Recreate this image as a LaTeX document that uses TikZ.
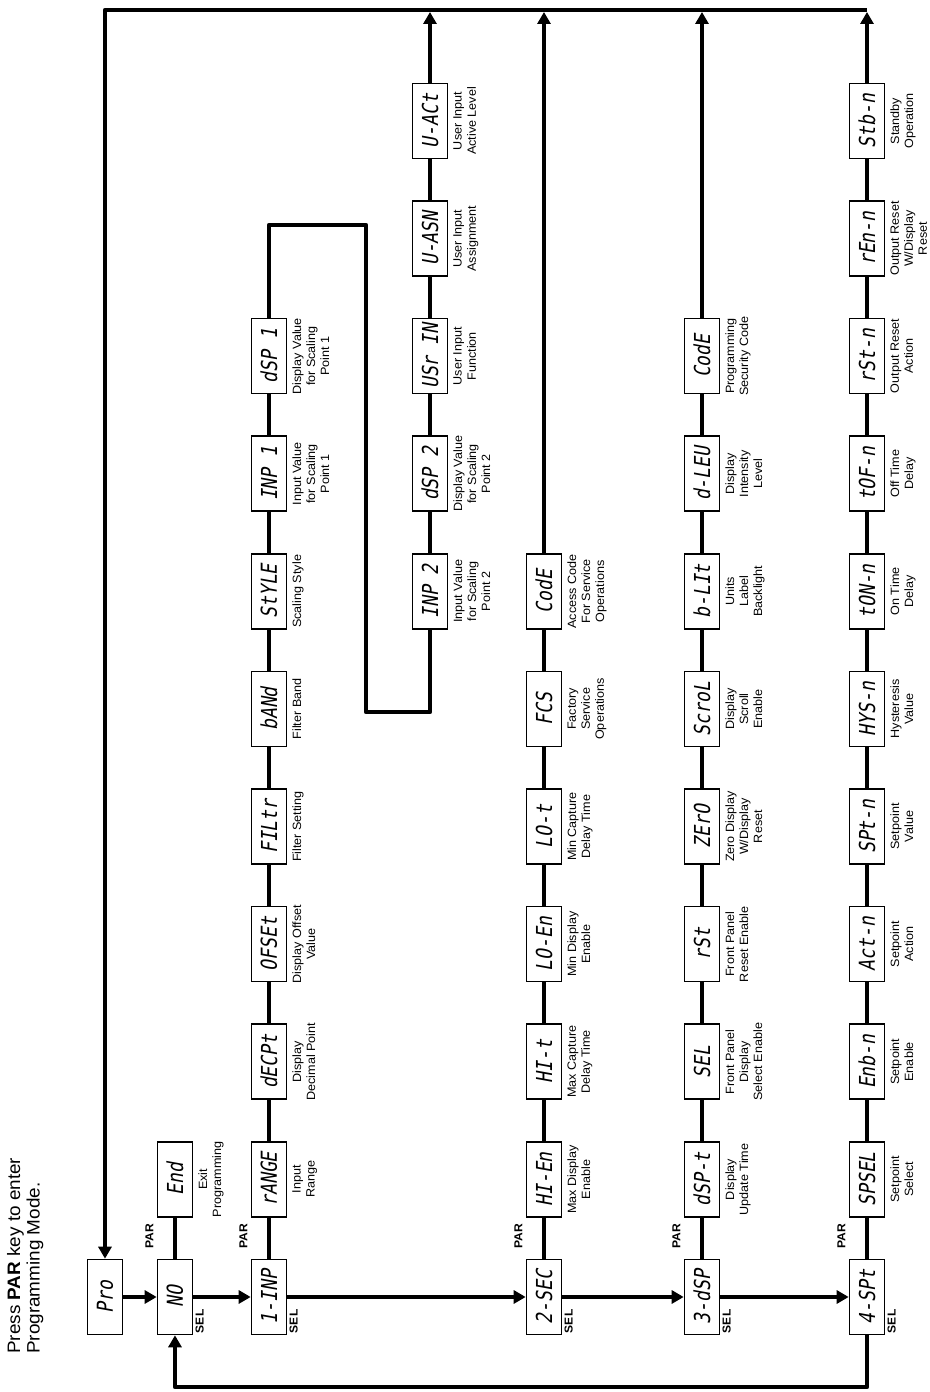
\documentclass[tikz,border=0pt]{standalone}
\usepackage{fontspec}
\setmainfont[FakeStretch=1.05]{Liberation Sans}
\newfontfamily\segfont[FakeSlant=0.18,FakeStretch=0.82]{DejaVu Sans Mono}
\usetikzlibrary{arrows.meta}

\tikzset{
  disp/.style={draw, line width=1.6pt, minimum width=75pt, minimum height=35pt,
    inner sep=0pt, font=\segfont\fontsize{22}{22}\selectfont},
  desc/.style={anchor=north, yshift=-5pt, align=center, inner sep=0pt,
    font=\fontsize{12}{14}\selectfont},
  btn/.style={inner sep=0pt, font=\bfseries\fontsize{11.5}{12}\selectfont},
  link/.style={line width=4.3pt, line join=round},
  flow/.style={link, ->},
}

\begin{document}
\begin{tikzpicture}[rotate=90, transform shape, x=1pt, y=1pt,
    >={Triangle[length=12pt,width=13pt]}]
  \useasboundingbox (0,0) rectangle (1392,929);

  \node[anchor=north west, align=left, inner sep=0pt,
    font=\fontsize{18}{19.5}\selectfont] (intro) at (38,922)
    {Press \textbf{PAR} key to enter\\Programming Mode.};

  % entry
  \node[disp] (pro) at (95,824) {Pro};
  \node[disp] (no) at (95,754) {NO};
  \node[disp] (end) at (212.6,754) {End};
  \node[desc] at (end.south) {Exit\\Programming};
  \draw[link] (no) -- (end);

  % first column
  \node[disp] (a0) at (95,660) {1-INP};
  \node[disp] (c0) at (95,385) {2-SEC};
  \node[disp] (d0) at (95,227) {3-dSP};
  \node[disp] (e0) at (95,62) {4-SPt};

  % row 1
  \foreach \t/\d [count=\k from 1] in {rANGE/{Input\\Range},
      dECPt/{Display\\Decimal Point}, OFSEt/{Display Offset\\Value},
      FILtr/{Filter Setting}, bANd/{Filter Band}, StYLE/{Scaling Style},
      INP 1/{Input Value\\for Scaling\\Point 1},
      dSP 1/{Display Value\\for Scaling\\Point 1}}
    {
      \node[disp] (a\k) at (95+117.6*\k,660) {\t};
      \node[desc] at (a\k.south) {\d};
    }
  \foreach \t/\d [count=\k from 6] in {INP 2/{Input Value\\for Scaling\\Point 2},
      dSP 2/{Display Value\\for Scaling\\Point 2},
      USr IN/{User Input\\Function}, U-ASN/{User Input\\Assignment},
      U-ACt/{User Input\\Active Level}}
    {
      \node[disp] (b\k) at (95+117.6*\k,499) {\t};
      \node[desc] at (b\k.south) {\d};
    }

  % row 2
  \foreach \t/\d [count=\k from 1] in {HI-En/{Max Display\\Enable},
      HI-t/{Max Capture\\Delay Time}, LO-En/{Min Display\\Enable},
      LO-t/{Min Capture\\Delay Time}, FCS/{Factory\\Service\\Operations},
      CodE/{Access Code\\For Service\\Operations}}
    {
      \node[disp] (c\k) at (95+117.6*\k,385) {\t};
      \node[desc] at (c\k.south) {\d};
    }

  % row 3
  \foreach \t/\d [count=\k from 1] in {dSP-t/{Display\\Update Time},
      SEL/{Front Panel\\Display\\Select Enable},
      rSt/{Front Panel\\Reset Enable},
      ZErO/{Zero Display\\W/Display\\Reset},
      ScroL/{Display\\Scroll\\Enable}, b-LIt/{Units\\Label\\Backlight},
      d-LEU/{Display\\Intensity\\Level},
      CodE/{Programming\\Security Code}}
    {
      \node[disp] (d\k) at (95+117.6*\k,227) {\t};
      \node[desc] at (d\k.south) {\d};
    }

  % row 4
  \foreach \t/\d [count=\k from 1] in {SPSEL/{Setpoint\\Select},
      Enb-n/{Setpoint\\Enable}, Act-n/{Setpoint\\Action},
      SPt-n/{Setpoint\\Value}, HYS-n/{Hysteresis\\Value},
      tON-n/{On Time\\Delay}, tOF-n/{Off Time\\Delay},
      rSt-n/{Output Reset\\Action},
      rEn-n/{Output Reset\\W/Display\\Reset},
      Stb-n/{Standby\\Operation}}
    {
      \node[disp] (e\k) at (95+117.6*\k,62) {\t};
      \node[desc] at (e\k.south) {\d};
    }

  % PAR and SEL keys
  \foreach \b in {no,a0,c0,d0,e0}
    {
      \node[btn, anchor=south west, xshift=10pt, yshift=3pt] at (\b.north east) {PAR};
      \node[btn, anchor=north west, xshift=2pt, yshift=-2pt] at (\b.south west) {SEL};
    }

  % chains
  \foreach \k [remember=\k as \p (initially 0)] in {1,...,8}
    \draw[link] (a\p) -- (a\k);
  \foreach \k [remember=\k as \p (initially 6)] in {7,...,10}
    \draw[link] (b\p) -- (b\k);
  \foreach \k [remember=\k as \p (initially 0)] in {1,...,6}
    \draw[link] (c\p) -- (c\k);
  \foreach \k [remember=\k as \p (initially 0)] in {1,...,8}
    \draw[link] (d\p) -- (d\k);
  \foreach \k [remember=\k as \p (initially 0)] in {1,...,10}
    \draw[link] (e\p) -- (e\k);

  % row 1 folds over into its second half
  \coordinate (fold1) at (1167,660);
  \coordinate (fold2) at (1167,563);
  \coordinate (fold3) at (680,563);
  \coordinate (fold4) at (680,499);
  \draw[link] (a8) -- (fold1) -- (fold2) -- (fold3) -- (fold4) -- (b6);

  % SEL path
  \draw[flow] (pro) -- (no);
  \draw[flow] (no) -- (a0);
  \draw[flow] (a0) -- (c0);
  \draw[flow] (c0) -- (d0);
  \draw[flow] (d0) -- (e0);

  % return lines
  \coordinate (topL) at (1382,824);
  \coordinate (topR) at (1382,62);
  \coordinate (botL) at (5,754);
  \coordinate (botR) at (5,62);
  \draw[flow] (topR) -- (topL) -- (pro);
  \draw[flow, shorten >=2pt] (e10) -- (topR);
  \draw[flow, shorten >=2pt] (b10) -- (topR |- b10);
  \draw[flow, shorten >=2pt] (c6) -- (topR |- c6);
  \draw[flow, shorten >=2pt] (d8) -- (topR |- d8);
  \draw[flow] (e0) -- (botR) -- (botL) -- (no);
\end{tikzpicture}
\end{document}
